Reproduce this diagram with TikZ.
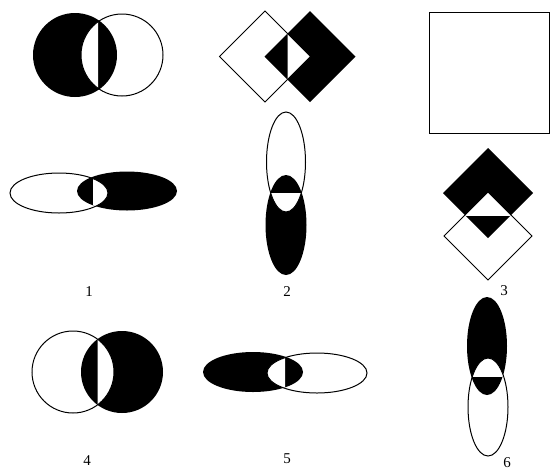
\documentclass[tikz,border=0pt]{standalone}
\usepackage{fontspec}
\setmainfont{Liberation Serif}

\begin{document}
\begin{tikzpicture}[
    x=1pt, y=-1pt,
    rim/.style={draw=black, line width=1pt, line join=miter},
    ink/.style={fill=black},
    hole/.style={fill=white},
    lbl/.style={font=\fontsize{15}{18}\selectfont, inner sep=0pt}
]
    \useasboundingbox (0,0) rectangle (551,475);

    \fill[ink] (75,55) circle (42);
    \begin{scope}
        \clip (122,55) circle (41);
        \clip (0,0) rectangle (98,110);
        \fill[hole] (75,55) circle (42);
    \end{scope}
    \draw[rim] (122,55) circle (41);

    \fill[ink] (127,191) ellipse [x radius=50, y radius=19.5];
    \begin{scope}
        \clip (59,193) ellipse [x radius=49, y radius=20];
        \clip (93,150) rectangle (200,230);
        \fill[hole] (127,191) ellipse [x radius=50, y radius=19.5];
    \end{scope}
    \draw[rim] (59,193) ellipse [x radius=49, y radius=20];

    \fill[ink] (264.5,56.5) -- (310,11) -- (355.5,56.5) -- (310,102) -- cycle;
    \begin{scope}
        \clip (219.5,56.5) -- (265,11) -- (310.5,56.5) -- (265,102) -- cycle;
        \clip (287.5,0) rectangle (400,120);
        \fill[hole] (264.5,56.5) -- (310,11) -- (355.5,56.5) -- (310,102) -- cycle;
    \end{scope}
    \draw[rim] (219.5,56.5) -- (265,11) -- (310.5,56.5) -- (265,102) -- cycle;

    \fill[ink] (286,225) ellipse [x radius=20.5, y radius=50];
    \begin{scope}
        \clip (286,162) ellipse [x radius=19.5, y radius=50];
        \clip (240,193.5) rectangle (330,290);
        \fill[hole] (286,225) ellipse [x radius=20.5, y radius=50];
    \end{scope}
    \draw[rim] (286,162) ellipse [x radius=19.5, y radius=50];

    \draw[rim] (429,12) rectangle (549,133);

    \fill[ink] (443,193) -- (488,148) -- (533,193) -- (488,238) -- cycle;
    \begin{scope}
        \clip (444,236) -- (488,192) -- (532,236) -- (488,280) -- cycle;
        \clip (420,140) rectangle (560,215);
        \fill[hole] (443,193) -- (488,148) -- (533,193) -- (488,238) -- cycle;
    \end{scope}
    \draw[rim] (444,236) -- (488,192) -- (532,236) -- (488,280) -- cycle;

    \fill[ink] (122,372) circle (41);
    \begin{scope}
        \clip (73,372) circle (41);
        \clip (97.5,320) rectangle (180,420);
        \fill[hole] (122,372) circle (41);
    \end{scope}
    \draw[rim] (73,372) circle (41);

    \fill[ink] (253,372) ellipse [x radius=50, y radius=20];
    \begin{scope}
        \clip (317,373) ellipse [x radius=50, y radius=20];
        \clip (190,340) rectangle (285,400);
        \fill[hole] (253,372) ellipse [x radius=50, y radius=20];
    \end{scope}
    \draw[rim] (317,373) ellipse [x radius=50, y radius=20];

    \fill[ink] (487,346) ellipse [x radius=20, y radius=49];
    \begin{scope}
        \clip (488,407) ellipse [x radius=20, y radius=49];
        \clip (450,290) rectangle (530,376.5);
        \fill[hole] (487,346) ellipse [x radius=20, y radius=49];
    \end{scope}
    \draw[rim] (488,407) ellipse [x radius=20, y radius=49];

    \node[lbl] (l1) at (89,292) {1};
    \node[lbl] (l2) at (287,292) {2};
    \node[lbl] (l3) at (504,291) {3};
    \node[lbl] (l4) at (87,461) {4};
    \node[lbl] (l5) at (287,459) {5};
    \node[lbl] (l6) at (507,463) {6};
\end{tikzpicture}
\end{document}
